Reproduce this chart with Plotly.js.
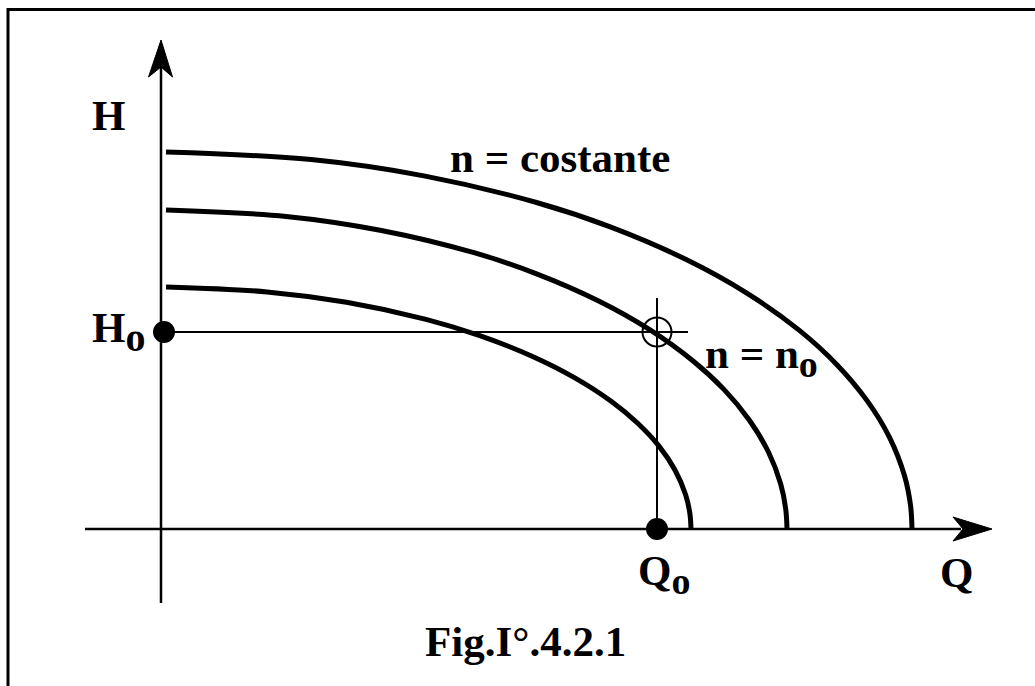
<!DOCTYPE html>
<html>
<head>
<meta charset="utf-8">
<script src="https://cdn.plot.ly/plotly-3.0.1.min.js"></script>
<style>html,body{margin:0;padding:0;background:#fff;}#chart{width:1035px;height:686px;}</style>
</head>
<body>
<div id="chart"></div>
<script>
// Characteristic curves H(Q) (Q, H in arbitrary units)
var q1 = [0.05, 1.06, 1.855, 2.65, 3.18, 3.71, 4.134, 4.505, 4.77, 4.982, 5.141, 5.247, 5.289, 5.30];
var h1 = [2.42, 2.371, 2.267, 2.096, 1.936, 1.728, 1.514, 1.275, 1.055, 0.826, 0.588, 0.341, 0.153, 0];
var q2 = [0.05, 1.252, 2.191, 3.13, 3.756, 4.382, 4.883, 5.321, 5.634, 5.884, 6.072, 6.197, 6.247, 6.26];
var h2 = [3.19, 3.126, 2.988, 2.763, 2.552, 2.278, 1.996, 1.680, 1.391, 1.088, 0.775, 0.450, 0.202, 0];
var q3 = [0.05, 1.502, 2.629, 3.755, 4.506, 5.257, 5.858, 6.384, 6.759, 7.059, 7.285, 7.435, 7.495, 7.51];
var h3 = [3.77, 3.694, 3.531, 3.265, 3.016, 2.692, 2.359, 1.986, 1.643, 1.286, 0.916, 0.532, 0.238, 0];
// Operating point
var Q0 = 4.96;
var H0 = 1.97;
// Text labels
var labelH = "H";
var labelH0 = "H<sub><span style='font-size:40px'>o</span></sub>";
var labelConst = "n = costante";
var labelN0 = "n = n<sub><span style='font-size:38px'>o</span></sub>";
var labelQ0 = "Q<sub><span style='font-size:38px'>o</span></sub>";
var labelQ = "Q";
var labelFig = "Fig.I°.4.2.1";

var FONT = {family: "'Liberation Serif', 'DejaVu Serif', serif", size: 43, color: "#000", weight: "bold"};
var curveLine = {color: "#000", width: 5, shape: "spline", smoothing: 1};

var traces = [
  {x: q1, y: h1, mode: "lines", line: curveLine, hoverinfo: "skip"},
  {x: q2, y: h2, mode: "lines", line: curveLine, hoverinfo: "skip"},
  {x: q3, y: h3, mode: "lines", line: curveLine, hoverinfo: "skip"},
  // guide lines through operating point
  {x: [0.03, Q0 + 0.31], y: [H0, H0], mode: "lines", line: {color: "#000", width: 2}, hoverinfo: "skip"},
  {x: [Q0, Q0], y: [0, H0 + 0.34], mode: "lines", line: {color: "#000", width: 2}, hoverinfo: "skip"},
  // dots on axes
  {x: [0.03, Q0], y: [H0, 0], mode: "markers", marker: {color: "#000", size: 22}, hoverinfo: "skip"},
  // open circle at operating point
  {x: [Q0], y: [H0], mode: "markers", marker: {color: "rgba(0,0,0,0)", size: 29, line: {color: "#000", width: 2}}, hoverinfo: "skip"}
];

var shapes = [
  // page border (top and left)
  {type: "line", xref: "paper", yref: "paper", x0: 8/1035, x1: 1, y0: 1 - 9.5/686, y1: 1 - 9.5/686, line: {color: "#000", width: 3}},
  {type: "line", xref: "paper", yref: "paper", x0: 8/1035, x1: 8/1035, y0: 0, y1: 1 - 8/686, line: {color: "#000", width: 3}},
  // axes
  {type: "line", x0: 0, x1: 0, y0: -0.74, y1: 4.62, line: {color: "#000", width: 2.5}},
  {type: "line", x0: -0.76, x1: 8.0, y0: 0, y1: 0, line: {color: "#000", width: 2.5}},
  // arrow heads
  {type: "path", path: "M 0,4.89 L 0.115,4.52 L 0.0,4.62 L -0.125,4.52 Z", fillcolor: "#000", line: {color: "#000", width: 1}},
  {type: "path", path: "M 8.31,0 L 7.92,0.12 L 8.02,0 L 7.92,-0.12 Z", fillcolor: "#000", line: {color: "#000", width: 1}}
];

function ann(text, x, y, xa, ya) {
  return {text: text, x: x, y: y, xanchor: xa, yanchor: ya, showarrow: false, font: FONT};
}
var annotations = [
  ann(labelH, -0.53, 4.14, "center", "middle"),
  ann(labelH0, -0.71, 1.97, "left", "middle"),
  ann(labelConst, 3.99, 3.72, "center", "middle"),
  ann(labelN0, 5.42, 1.72, "left", "middle"),
  ann(labelQ0, 4.75, -0.45, "left", "middle"),
  ann(labelQ, 7.77, -0.43, "left", "middle"),
  ann(labelFig, 3.64, -1.12, "center", "middle")
];

var layout = {
  width: 1035, height: 686,
  margin: {l: 0, r: 0, t: 0, b: 0, pad: 0},
  paper_bgcolor: "#fff", plot_bgcolor: "#fff",
  showlegend: false,
  xaxis: {range: [-1.61, 8.74], visible: false, fixedrange: true},
  yaxis: {range: [-1.57, 5.29], visible: false, fixedrange: true},
  shapes: shapes,
  annotations: annotations
};

Plotly.newPlot("chart", traces, layout, {displayModeBar: false, staticPlot: true});
</script>
</body>
</html>
